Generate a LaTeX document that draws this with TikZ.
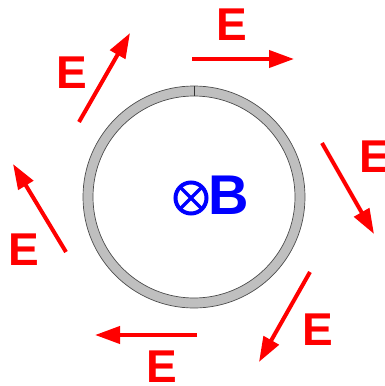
\documentclass[tikz,border=0pt]{standalone}
\usepackage{fontspec}
\setmainfont{Liberation Sans}
\usetikzlibrary{arrows.meta,calc}
\begin{document}
\begin{tikzpicture}[x=1pt,y=-1pt,
  efield/.style={draw=red, line width=4pt, -{Triangle[length=25pt,width=17pt]}},
  elabel/.style={text=red, font=\bfseries\fontsize{46}{46}\selectfont, inner sep=0pt},
  blabel/.style={text=blue, font=\bfseries\fontsize{56}{56}\selectfont, inner sep=0pt}]
\useasboundingbox (0,0) rectangle (385,386);
% ring
\coordinate (c) at (194,197);
\fill[gray!50, even odd rule, draw=black!70, line width=0.7pt] (c) circle (111) (c) circle (101);
\draw[black!80, line width=1pt] (194,86) -- (194,96);
% B symbol
\coordinate (o) at (191,198);
\draw[blue, line width=4pt] (o) circle (15.5);
\draw[blue, line width=3.5pt] ($(o)+(-10.6,-10.6)$) -- ($(o)+(10.6,10.6)$);
\draw[blue, line width=3.5pt] ($(o)+(-10.6,10.6)$) -- ($(o)+(10.6,-10.6)$);
\node[blabel] (B) at (229,195) {B};
% E arrows
\coordinate (a1s) at (192,59); \coordinate (a1e) at (294,59);
\coordinate (a2s) at (79,122); \coordinate (a2e) at (130,33);
\coordinate (a3s) at (322,143); \coordinate (a3e) at (374,234);
\coordinate (a4s) at (66,252); \coordinate (a4e) at (13,164);
\coordinate (a5s) at (310,272); \coordinate (a5e) at (259,362);
\coordinate (a6s) at (197,335); \coordinate (a6e) at (95,335);
\foreach \i in {1,...,6} {\draw[efield] (a\i s) -- (a\i e);}
\node[elabel] (e1) at (232,25) {E};
\node[elabel] (e2) at (72,73) {E};
\node[elabel] (e3) at (375,157) {E};
\node[elabel] (e4) at (24,250) {E};
\node[elabel] (e5) at (318,330) {E};
\node[elabel] (e6) at (162,367) {E};
\end{tikzpicture}
\end{document}
